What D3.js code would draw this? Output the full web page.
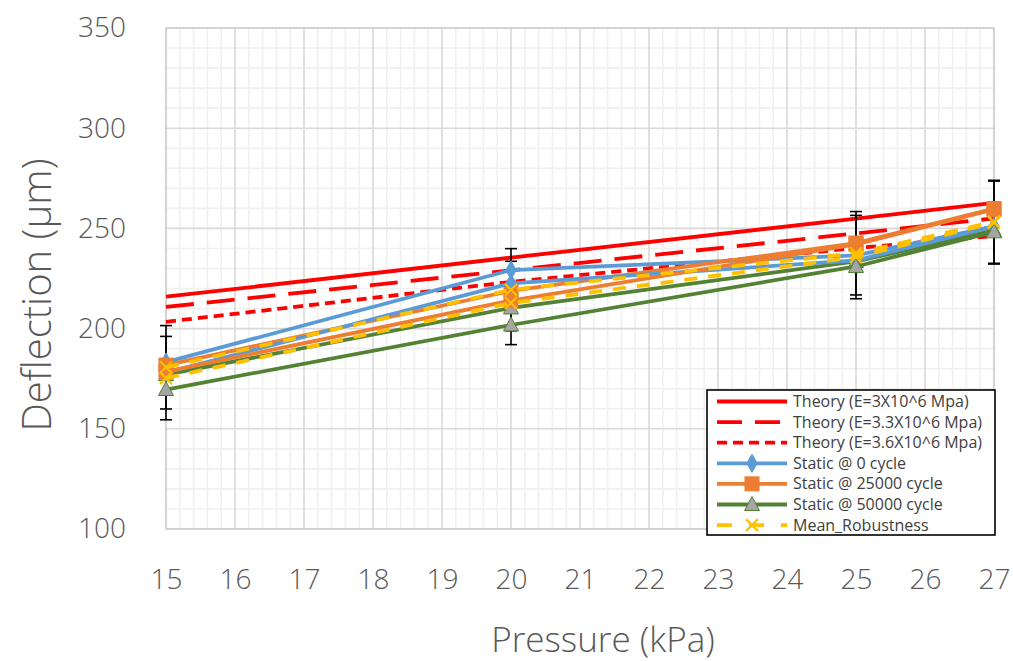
<!DOCTYPE html>
<html>
<head>
<meta charset="utf-8">
<script src="https://cdn.jsdelivr.net/npm/d3@7"></script>
<style>
  html, body { margin: 0; padding: 0; background: #fff; }
  svg { display: block; }
  .tick-label { font-family: "Open Sans", sans-serif; font-weight: 300; fill: #595959; }
  .axis-title { font-family: "Open Sans", sans-serif; font-weight: 300; fill: #595959; }
  .legend-text { font-family: "Open Sans", sans-serif; fill: #404040; }
</style>
</head>
<body>
<svg id="chart" width="1013" height="661"></svg>
<script>
// Pressure steps (kPa)
const pressure = [15, 20, 25, 27];

// Theoretical deflection (µm) for three Young's moduli
const theoryE30 = [215.9, 235.4, 254.9, 262.7];
const theoryE33 = [210.8, 229.1, 247.5, 255.0];
const theoryE36 = [203.4, 223.3, 240.2, 246.2];

// Measured static deflection (µm), first run
const static0 = [183.3, 229.2, 236.5, 251.0];
const static25k = [181.8, 218.8, 242.7, 259.9];
const static50k = [177.0, 210.3, 233.5, 249.0];
const meanRobustness = [180.7, 219.4, 237.6, 253.3];
const meanError = [20.8, 20.5, 20.8, 20.7];

// Measured static deflection (µm), repeat run
const static0Repeat = [178.0, 222.6, 234.0, 251.0];
const static25kRepeat = [178.5, 214.0, 242.0, 259.5];
const static50kRepeat = [169.6, 201.8, 231.0, 248.3];
const meanRobustnessRepeat = [175.3, 212.8, 235.7, 252.9];
const meanErrorRepeat = [20.8, 20.8, 20.8, 20.7];

// Axis ticks
const xTicks = [15, 16, 17, 18, 19, 20, 21, 22, 23, 24, 25, 26, 27];
const yTicks = [100, 150, 200, 250, 300, 350];

const legendLabels = [
  "Theory (E=3X10^6 Mpa)",
  "Theory (E=3.3X10^6 Mpa)",
  "Theory (E=3.6X10^6 Mpa)",
  "Static @ 0 cycle",
  "Static @ 25000 cycle",
  "Static @ 50000 cycle",
  "Mean_Robustness"
];

const RED = "#FF0000", BLUE = "#5B9BD5", ORANGE = "#ED7D31",
      GREEN = "#548235", GREY = "#A5A5A5", GOLD = "#FFC000";

const styles = {
  e30:  { color: RED, width: 3.8, dash: null, marker: null },
  e33:  { color: RED, width: 3.8, dash: "28,13", marker: null },
  e36:  { color: RED, width: 3.8, dash: "10,6", marker: null },
  s0:   { color: BLUE, width: 3.8, dash: null, marker: "diamond" },
  s25:  { color: ORANGE, width: 3.8, dash: null, marker: "square" },
  s50:  { color: GREEN, width: 3.8, dash: null, marker: "triangle" },
  mean: { color: GOLD, width: 3.8, dash: "13,11", marker: "cross" }
};

const svg = d3.select("#chart");
const plotLeft = 166, plotRight = 994, plotTop = 28, plotBottom = 529;

const x = d3.scaleLinear().domain([15, 27]).range([plotLeft, plotRight]);
const y = d3.scaleLinear().domain([100, 350]).range([plotBottom, plotTop]);

// Gridlines: minor then major
const grid = svg.append("g");
const xMinor = d3.range(150, 271, 2).map(v => v / 10).filter(v => !Number.isInteger(v));
const yMinor = d3.range(100, 351, 10).filter(v => v % 50 !== 0);
grid.selectAll(".xminor").data(xMinor).join("line")
  .attr("x1", d => x(d)).attr("x2", d => x(d)).attr("y1", plotTop).attr("y2", plotBottom)
  .attr("stroke", "#F0F0F0").attr("stroke-width", 1.6);
grid.selectAll(".yminor").data(yMinor).join("line")
  .attr("x1", plotLeft).attr("x2", plotRight).attr("y1", d => y(d)).attr("y2", d => y(d))
  .attr("stroke", "#F0F0F0").attr("stroke-width", 1.6);
grid.selectAll(".xmajor").data(xTicks).join("line")
  .attr("x1", d => x(d)).attr("x2", d => x(d)).attr("y1", plotTop).attr("y2", plotBottom)
  .attr("stroke", "#D9D9D9").attr("stroke-width", 1.6);
grid.selectAll(".ymajor").data(yTicks).join("line")
  .attr("x1", plotLeft).attr("x2", plotRight).attr("y1", d => y(d)).attr("y2", d => y(d))
  .attr("stroke", "#D9D9D9").attr("stroke-width", 1.6);
grid.append("rect").attr("x", plotLeft).attr("y", plotTop)
  .attr("width", plotRight - plotLeft).attr("height", plotBottom - plotTop)
  .attr("fill", "none").attr("stroke", "#D0D0D0").attr("stroke-width", 1.6);

// Axes (labels only)
const xAxis = svg.append("g").attr("transform", `translate(0,${plotBottom})`)
  .call(d3.axisBottom(x).tickValues(xTicks).tickSize(0).tickPadding(40).tickFormat(d3.format("d")));
const yAxis = svg.append("g").attr("transform", `translate(${plotLeft},0)`)
  .call(d3.axisLeft(y).tickValues(yTicks).tickSize(0).tickPadding(40).tickFormat(d3.format("d")));
[xAxis, yAxis].forEach(a => {
  a.select(".domain").remove();
  a.selectAll("text").attr("class", "tick-label").attr("font-size", 28).attr("fill", "#595959");
});

svg.append("text").attr("class", "axis-title").attr("x", 603).attr("y", 652)
  .attr("text-anchor", "middle").attr("font-size", 35).text("Pressure (kPa)");
svg.append("text").attr("class", "axis-title")
  .attr("transform", "translate(51,295) rotate(-90)")
  .attr("text-anchor", "middle").attr("font-size", 40).text("Deflection (µm)");

// Markers
function drawMarker(g, kind, cx, cy) {
  if (kind === "diamond") {
    g.append("path").attr("d", d3.symbol(d3.symbolDiamond, 95)())
      .attr("transform", `translate(${cx},${cy})`).attr("fill", BLUE).attr("stroke", BLUE).attr("stroke-width", 1);
  } else if (kind === "square") {
    g.append("rect").attr("x", cx - 7).attr("y", cy - 7).attr("width", 14).attr("height", 14)
      .attr("fill", ORANGE).attr("stroke", ORANGE).attr("stroke-width", 1);
  } else if (kind === "triangle") {
    g.append("path").attr("d", `M${cx},${cy - 8}L${cx + 7.5},${cy + 6}L${cx - 7.5},${cy + 6}Z`)
      .attr("fill", GREY).attr("stroke", GREEN).attr("stroke-width", 1);
  } else if (kind === "cross") {
    g.append("path").attr("d", `M${cx - 6},${cy - 6}L${cx + 6},${cy + 6}M${cx + 6},${cy - 6}L${cx - 6},${cy + 6}`)
      .attr("stroke", GOLD).attr("stroke-width", 2.2).attr("fill", "none");
  }
}

const line = d3.line().x((d, i) => x(pressure[i])).y(d => y(d));
const plot = svg.append("g");

function drawSeries(values, st) {
  const g = plot.append("g");
  g.append("path").datum(values).attr("d", line)
    .attr("fill", "none").attr("stroke", st.color).attr("stroke-width", st.width)
    .attr("stroke-dasharray", st.dash).attr("stroke-linejoin", "round");
  if (st.marker) values.forEach((v, i) => drawMarker(g, st.marker, x(pressure[i]), y(v)));
}

function drawErrorBars(values, errs) {
  const g = plot.append("g");
  values.forEach((v, i) => {
    const cx = x(pressure[i]);
    const y0 = y(v - errs[i]), y1 = y(v + errs[i]);
    g.append("line").attr("x1", cx).attr("x2", cx).attr("y1", y0).attr("y2", y1)
      .attr("stroke", "#000").attr("stroke-width", 1.6);
    [y0, y1].forEach(yy => g.append("line").attr("x1", cx - 6).attr("x2", cx + 6)
      .attr("y1", yy).attr("y2", yy).attr("stroke", "#000").attr("stroke-width", 1.6));
  });
}

drawSeries(theoryE30, styles.e30);
drawSeries(theoryE33, styles.e33);
drawSeries(theoryE36, styles.e36);
drawErrorBars(meanRobustness, meanError);
drawErrorBars(meanRobustnessRepeat, meanErrorRepeat);
drawSeries(static0, styles.s0);
drawSeries(static25k, styles.s25);
drawSeries(static50k, styles.s50);
drawSeries(static0Repeat, styles.s0);
drawSeries(static25kRepeat, styles.s25);
drawSeries(static50kRepeat, styles.s50);
drawSeries(meanRobustness, styles.mean);
drawSeries(meanRobustnessRepeat, styles.mean);

// Legend
const lg = svg.append("g");
lg.append("rect").attr("x", 707).attr("y", 390).attr("width", 288).attr("height", 145)
  .attr("fill", "#fff").attr("stroke", "#000").attr("stroke-width", 1.6);
const legendStyles = [styles.e30, styles.e33, styles.e36, styles.s0, styles.s25, styles.s50, styles.mean];
legendLabels.forEach((lab, i) => {
  const yy = 401.5 + i * 20.6;
  const st = legendStyles[i];
  lg.append("line").attr("x1", 717).attr("x2", 787).attr("y1", yy).attr("y2", yy)
    .attr("stroke", st.color).attr("stroke-width", st.width)
    .attr("stroke-dasharray", st.marker === "cross" ? "15,17" : (st.dash === "28,13" ? "25,13" : st.dash));
  if (st.marker) drawMarker(lg, st.marker, 752, yy);
  lg.append("text").attr("class", "legend-text").attr("x", 793).attr("y", yy + 5.5)
    .attr("font-size", 16).text(lab);
});
</script>
</body>
</html>
